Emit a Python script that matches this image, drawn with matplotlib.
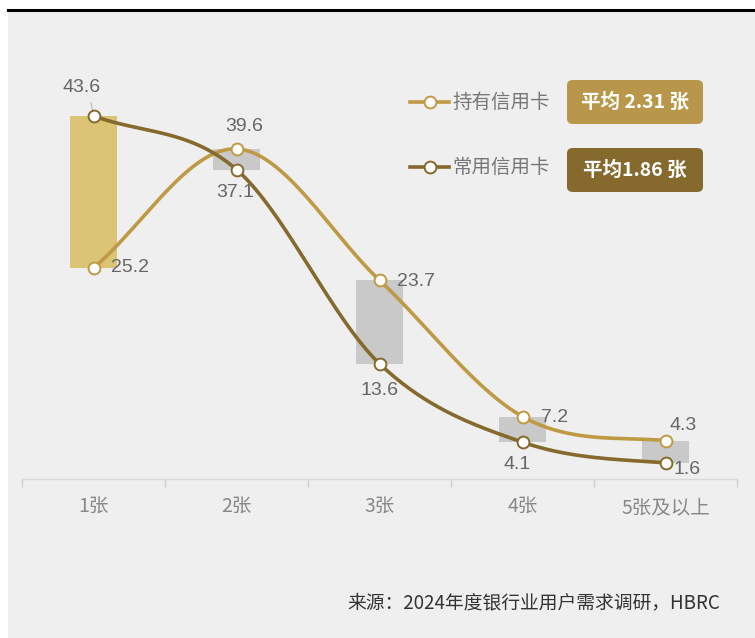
import numpy as np
import matplotlib
matplotlib.use("Agg")
import matplotlib.pyplot as plt
from matplotlib.patches import FancyBboxPatch
from matplotlib.lines import Line2D

categories = ["1张", "2张", "3张", "4张", "5张及以上"]
hold = [25.2, 39.6, 23.7, 7.2, 4.3]
use = [43.6, 37.1, 13.6, 4.1, 1.6]
series_names = ["持有信用卡", "常用信用卡"]
avg_labels = ["平均 2.31 张", "平均1.86 张"]
source = "来源：2024年度银行业用户需求调研，HBRC"

C_HOLD = "#bf9a45"
C_USE = "#86692d"
BG = "#efefef"

W, H = 755, 638
fig = plt.figure(figsize=(W / 100, H / 100), dpi=100)
fig.patch.set_facecolor("white")
# grey panel
fig.patches.append(plt.Rectangle((8 / W, 0), 1 - 8 / W, 1 - 11 / H, transform=fig.transFigure,
                                 facecolor=BG, edgecolor="none", zorder=-10))
fig.lines.append(Line2D([8 / W, 1], [1 - 10 / H, 1 - 10 / H], transform=fig.transFigure,
                        color="black", lw=2.2, zorder=-9))

ax_l, ax_r, ax_b, ax_t = 22 / W, 737 / W, (H - 479) / H, (H - 60) / H
ax = fig.add_axes([ax_l, ax_b, ax_r - ax_l, ax_t - ax_b])
ax.set_facecolor("none")
ax.set_xlim(-0.5, 4.5)
ax.set_ylim(-0.36, 50.36)

x = np.arange(len(categories))
lo = np.minimum(hold, use)
hi = np.maximum(hold, use)
bar_colors = ["#dbc574"] + ["#c9c9c9"] * (len(categories) - 1)
ax.bar(x, hi - lo, bottom=lo, width=0.335, color=bar_colors, zorder=2)


def smooth(xs, ys, n=60, k_start=1.0, k_end=0.5):
    xs = np.asarray(xs, float)
    ys = np.asarray(ys, float)
    m = np.zeros_like(ys)
    for i in range(len(ys)):
        if i == 0:
            m[i] = (ys[1] - ys[0]) * k_start
        elif i == len(ys) - 1:
            m[i] = (ys[-1] - ys[-2]) * k_end
        else:
            m[i] = (ys[i + 1] - ys[i - 1]) / 2
    px, py = [], []
    for i in range(len(ys) - 1):
        t = np.linspace(0, 1, n)
        h00 = 2 * t**3 - 3 * t**2 + 1
        h10 = t**3 - 2 * t**2 + t
        h01 = -2 * t**3 + 3 * t**2
        h11 = t**3 - t**2
        px.extend(xs[i] + t * (xs[i + 1] - xs[i]))
        py.extend(h00 * ys[i] + h10 * m[i] + h01 * ys[i + 1] + h11 * m[i + 1])
    return np.array(px), np.array(py)


for vals, c in [(hold, C_HOLD), (use, C_USE)]:
    sx, sy = smooth(x, vals)
    ax.plot(sx, sy, color=c, lw=2.6, zorder=3, solid_capstyle="round")
    ax.plot(x, vals, "o", ms=8.5, mfc="white", mec=c, mew=1.4, zorder=4)

num_font = dict(family=["Liberation Sans", "DejaVu Sans"], fontsize=14, color="#666666")
# (dx, dy) pixel offsets of label center from point
hold_off = [(36, 0), (8, 22), (36, -1), (32, -1), (18, 15)]
use_off = [(-12, 28), (-1, -23), (0, -27), (-5, -22), (22, -7)]
for vals, offs in [(hold, hold_off), (use, use_off)]:
    for i, v in enumerate(vals):
        dx, dy = offs[i]
        ax.annotate(f"{v}", (x[i], v), xytext=(dx, dy), textcoords="offset pixels",
                    ha="center", va="center", zorder=5, **num_font)
# leader line for 43.6
ax.annotate("", (x[0], use[0]), xytext=(-3, 16), textcoords="offset pixels",
            arrowprops=dict(arrowstyle="-", color="#bbbbbb", lw=0.8), zorder=3)

# axis styling
for s in ["top", "left", "right"]:
    ax.spines[s].set_visible(False)
ax.spines["bottom"].set_color("#d9d9d9")
ax.spines["bottom"].set_linewidth(1)
ax.set_yticks([])
ax.set_xticks(x)
ax.set_xticklabels(categories, family=["Noto Sans CJK SC", "DejaVu Sans"], fontsize=14, color="#888888")
ax.tick_params(axis="x", which="major", length=0, pad=13)
ax.set_xticks(np.arange(-0.5, 4.6, 1), minor=True)
ax.tick_params(axis="x", which="minor", length=6, color="#d0d0d0", width=1)

# legend
cjk = ["Noto Sans CJK SC", "DejaVu Sans"]
for j, (name, c, yc) in enumerate([(series_names[0], C_HOLD, 102), (series_names[1], C_USE, 167)]):
    yf = 1 - yc / H
    fig.lines.append(Line2D([410 / W, 449 / W], [yf, yf], transform=fig.transFigure, color=c, lw=2.6))
    fig.lines.append(Line2D([430 / W], [yf], transform=fig.transFigure, marker="o", ms=8.5,
                            mfc="white", mec=c, mew=1.4))
    fig.text(452 / W, yf, name, family=cjk, fontsize=14, color="#777777", va="center", ha="left")
    bx0, bx1 = 567, 703
    by0, by1 = yc - 20 - (2 if j == 0 else -1), yc + 24 - (2 if j == 0 else -1)
    box = FancyBboxPatch((bx0 / W, 1 - by1 / H), (bx1 - bx0) / W, (by1 - by0) / H,
                         boxstyle="round,pad=0,rounding_size=0.008", transform=fig.transFigure,
                         facecolor=c if j == 1 else "#b8974a", edgecolor="none")
    fig.patches.append(box)
    fig.text((bx0 + bx1) / 2 / W, 1 - (by0 + by1) / 2 / H, avg_labels[j], family=cjk, fontsize=14,
             fontweight="bold", color="white", va="center", ha="center")

fig.text(720 / W, 1 - 603 / H, source, family=cjk, fontsize=13.5, color="#333333", ha="right", va="center")

fig.savefig("out.png", dpi=100, facecolor=fig.get_facecolor())
